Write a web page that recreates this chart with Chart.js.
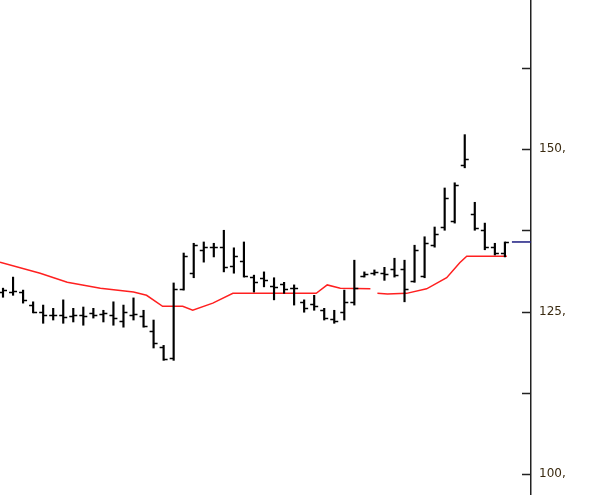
<!DOCTYPE html>
<html>
<head>
<meta charset="utf-8">
<script src="https://cdn.jsdelivr.net/npm/chart.js@4"></script>
<style>
  html, body { margin: 0; padding: 0; background: #fff; }
  #wrap { width: 592px; height: 495px; }
</style>
</head>
<body>
<div id="wrap"><canvas id="priceChart"></canvas></div>
<script>
// OHLC bars, one per session
const highs = [128.6, 130.3, 128.3, 126.5, 126.0, 125.5, 126.8, 125.5, 125.7, 125.5, 125.2, 126.5, 126.0, 127.1, 125.2, 123.7, 119.8, 129.4, 134.0, 135.5, 135.7, 135.5, 137.5, 134.8, 135.7, 130.6, 131.1, 130.2, 129.5, 129.1, 126.8, 127.5, 125.5, 125.2, 128.3, 132.9, 131.1, 131.4, 131.8, 133.2, 132.9, 135.2, 136.5, 138.0, 144.0, 144.8, 152.2, 141.8, 138.6, 135.5, 135.7];
const lows = [127.2, 127.5, 126.3, 124.8, 123.2, 123.7, 123.2, 123.4, 122.9, 124.0, 123.4, 122.9, 122.6, 123.7, 122.6, 119.4, 117.5, 117.5, 128.3, 130.2, 132.6, 133.4, 131.1, 130.9, 130.3, 128.0, 128.8, 126.8, 127.8, 126.0, 124.9, 125.2, 123.7, 123.2, 123.7, 126.0, 130.3, 130.6, 129.8, 130.3, 126.5, 129.5, 130.2, 134.9, 137.5, 138.6, 147.1, 137.5, 134.5, 133.7, 133.4];
const opens = [128.0, 128.0, 128.0, 126.0, 125.0, 124.5, 124.5, 124.3, 124.4, 124.8, 124.6, 124.5, 123.6, 124.5, 124.3, 122.0, 119.5, 117.8, 128.5, 131.0, 134.5, 135.0, 135.0, 132.0, 132.7, 130.3, 130.2, 129.0, 129.2, 128.6, 126.5, 126.2, 125.2, 123.8, 125.0, 126.5, 130.5, 131.0, 131.0, 131.5, 131.5, 129.7, 130.5, 135.3, 138.0, 139.0, 147.5, 140.0, 137.5, 135.0, 134.0];
const closes = [128.3, 128.2, 126.8, 125.0, 124.5, 124.5, 124.2, 124.5, 124.3, 124.5, 124.8, 124.0, 125.0, 124.7, 122.8, 120.2, 117.7, 128.5, 133.5, 135.2, 135.0, 135.0, 131.8, 133.5, 130.5, 129.5, 129.8, 128.8, 128.5, 128.7, 125.5, 125.8, 124.0, 123.5, 126.5, 128.6, 130.8, 131.1, 130.8, 130.6, 128.5, 134.5, 135.5, 137.0, 142.5, 144.5, 148.5, 137.8, 135.0, 134.0, 135.7];

// Moving average (red)
const maX = [-0.3, 3.7, 6.4, 9.7, 13.0, 14.3, 15.9, 17.9, 18.9, 20.9, 22.9, 31.2, 32.3, 33.6, 36.6, null, 37.3, 38.3, 40.2, 42.2, 44.2, 45.5, 46.2, 50.2];
const maValues = [132.6, 130.9, 129.5, 128.6, 128.0, 127.5, 125.8, 125.8, 125.2, 126.3, 127.8, 127.8, 129.1, 128.6, 128.5, null, 127.8, 127.7, 127.8, 128.5, 130.2, 132.5, 133.5, 133.5];

// Last price marker (blue)
const lastX = [50.7, 52.6];
const lastValues = [135.7, 135.7];

const yTicks = [100, 125, 150];

const ohlcTicks = {
    id: "ohlcTicks",
    afterDatasetsDraw(chart) {
        const ctx = chart.ctx;
        const xs = chart.scales.x;
        const ys = chart.scales.y;
        ctx.save();
        ctx.strokeStyle = "#000";
        ctx.lineWidth = 1.5;
        ctx.beginPath();
        for (let i = 0; i < opens.length; i++) {
            const px = xs.getPixelForValue(i);
            const po = Math.round(ys.getPixelForValue(opens[i])) + 0.5;
            const pc = Math.round(ys.getPixelForValue(closes[i])) + 0.5;
            ctx.moveTo(px - 4, po);
            ctx.lineTo(px, po);
            ctx.moveTo(px, pc);
            ctx.lineTo(px + 4, pc);
        }
        ctx.stroke();
        // axis tick marks pointing into the plot
        ctx.strokeStyle = "#222";
        ctx.lineWidth = 1.5;
        ctx.beginPath();
        ys.ticks.forEach((t) => {
            const py = Math.round(ys.getPixelForValue(t.value)) + 0.5;
            ctx.moveTo(ys.left - 9, py);
            ctx.lineTo(ys.left, py);
        });
        ctx.stroke();
        ctx.restore();
    },
};

new Chart(document.getElementById("priceChart").getContext("2d"), {
    data: {
        datasets: [
            {
                type: "bar",
                data: highs.map((h, i) => ({ x: i, y: [lows[i], h] })),
                backgroundColor: "#000",
                barThickness: 1.5,
                borderWidth: 0,
            },
            {
                type: "line",
                data: maX.map((x, i) => ({ x: x, y: maValues[i] })),
                borderColor: "#ff2020",
                borderWidth: 1.5,
                pointRadius: 0,
                spanGaps: false,
            },
            {
                type: "line",
                data: lastX.map((x, i) => ({ x: x, y: lastValues[i] })),
                borderColor: "#1a1a80",
                borderWidth: 1.5,
                pointRadius: 0,
            },
        ],
    },
    options: {
        responsive: true,
        maintainAspectRatio: false,
        animation: false,
        layout: { padding: 0 },
        plugins: {
            legend: { display: false },
            tooltip: { enabled: false },
        },
        scales: {
            x: {
                type: "linear",
                display: false,
                offset: false,
                min: -0.3,
                max: 52.6,
            },
            y: {
                position: "right",
                min: 96.8,
                max: 172.9,
                afterFit(scale) {
                    scale.width = 61;
                    scale.paddingTop = 0;
                    scale.paddingBottom = 0;
                },
                afterBuildTicks(scale) {
                    scale.ticks = [];
                    for (let v = 100; v <= 170; v += 12.5) {
                        scale.ticks.push({ value: v });
                    }
                },
                border: { display: true, color: "#222", width: 1.5 },
                grid: { display: false },
                ticks: {
                    padding: 0,
                    color: "#3a2a10",
                    font: { family: "Verdana, DejaVu Sans", size: 12 },
                    callback: (v) => (yTicks.includes(v) ? v + "," : ""),
                },
            },
        },
    },
    plugins: [ohlcTicks],
});
</script>
</body>
</html>
